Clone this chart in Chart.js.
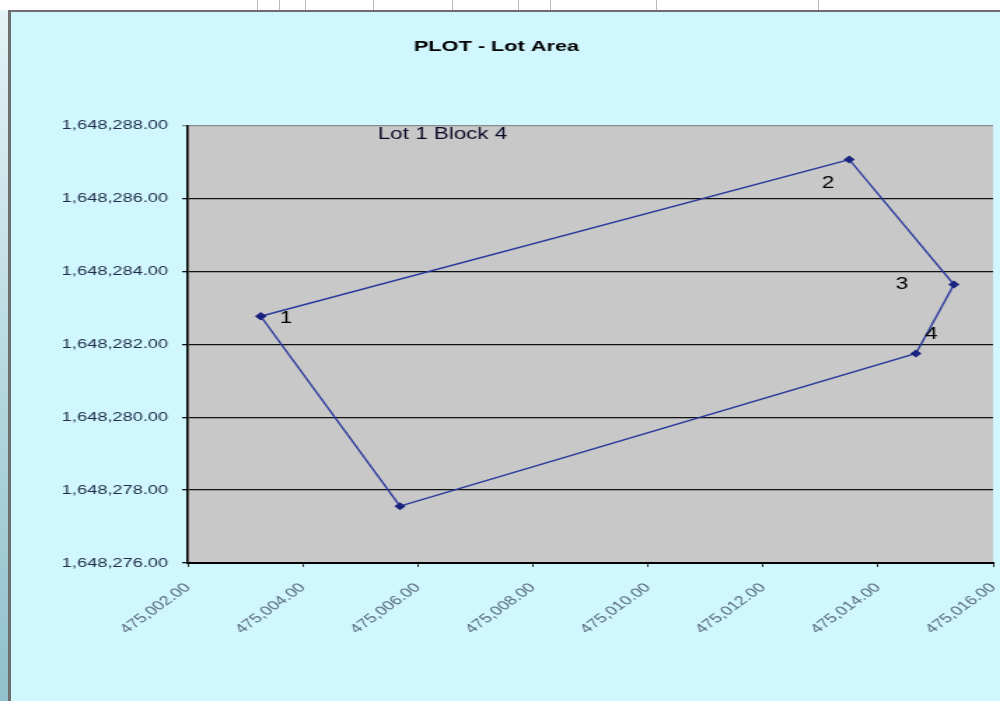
<!DOCTYPE html>
<html>
<head>
<meta charset="utf-8">
<title>PLOT - Lot Area</title>
<script src="https://cdn.jsdelivr.net/npm/chart.js@4/dist/chart.umd.min.js"></script>
<style>
    html, body { margin: 0; padding: 0; }
    body {
        width: 1000px; height: 701px; overflow: hidden; position: relative;
        background: #cff7fd;
        font-family: "Liberation Sans", Arial, sans-serif;
    }
    /* spreadsheet bits around the chart object */
    #sheet-top { position: absolute; left: 0; top: 0; width: 1000px; height: 10px; background: #fff; }
    #sheet-top span { position: absolute; top: 0; width: 1px; height: 10px; background: #b8b8b8; }
    #frame-top { position: absolute; left: 8px; top: 10px; width: 992px; height: 2px; background: #6e6e6e; }
    #sheet-left { position: absolute; left: 0; top: 10px; width: 8px; height: 691px;
        background: linear-gradient(#e4f3f6, #8fc0cc); }
    #frame-left { position: absolute; left: 8px; top: 10px; width: 3px; height: 691px; background: #6e6e6e; }
    /* the original picture is a sideways-stretched screenshot, so stretch the canvas the same way */
    canvas { position: absolute; left: 0; top: 0; transform: scaleX(1.4006); transform-origin: 0 0; }
</style>
</head>
<body>
<div id="sheet-top">
    <span style="left:257px"></span><span style="left:279px"></span><span style="left:305px"></span>
    <span style="left:373px"></span><span style="left:452px"></span><span style="left:518px"></span>
    <span style="left:550px"></span><span style="left:656px"></span><span style="left:818px"></span>
</div>
<div id="frame-top"></div>
<div id="sheet-left"></div>
<div id="frame-left"></div>
<canvas id="lotChart" width="714" height="701"></canvas>

<script>
// Lot corners (easting / northing), closed back to corner 1
const eastings  = [475003.27, 475013.50, 475015.32, 475014.66, 475005.69, 475003.27];
const northings = [1648282.77, 1648287.07, 1648283.64, 1648281.75, 1648277.56, 1648282.77];
const cornerLabels = ['1', '2', '3', '4', '', ''];

const xMin = 475002, xMax = 475016, xStep = 2;
const yMin = 1648276, yMax = 1648288, yStep = 2;

const chartTitle = 'PLOT - Lot Area';
const lotName = 'Lot 1 Block 4';
const lotNameAt = { x: 475006.43, y: 1648287.75 };

// pixel nudges for the corner numbers (style only, canvas px)
const labelNudge = [[18, 2], [-15, 24], [-37, 0], [11, -19], [0, 0], [0, 0]];

const FONT = '"Liberation Sans", Arial, sans-serif';

function fmt(v) {
    return v.toLocaleString('en-US', { minimumFractionDigits: 2, maximumFractionDigits: 2 });
}

const plotBackground = {
    id: 'plotBackground',
    beforeDraw(chart) {
        const { ctx, chartArea: a } = chart;
        ctx.save();
        ctx.fillStyle = '#c8c8c8';
        ctx.fillRect(a.left, a.top, a.right - a.left, a.bottom - a.top);
        ctx.restore();
    }
};

const textLabels = {
    id: 'textLabels',
    afterDatasetsDraw(chart) {
        const { ctx, scales } = chart;
        ctx.save();
        ctx.fillStyle = '#000';
        ctx.font = '16px ' + FONT;
        ctx.textAlign = 'center';
        ctx.textBaseline = 'middle';
        eastings.forEach((e, i) => {
            if (!cornerLabels[i]) return;
            const px = scales.x.getPixelForValue(e) + labelNudge[i][0];
            const py = scales.y.getPixelForValue(northings[i]) + labelNudge[i][1];
            ctx.fillText(cornerLabels[i], px, py);
        });
        ctx.fillStyle = '#0a0a28';
        ctx.fillText(lotName, scales.x.getPixelForValue(lotNameAt.x), scales.y.getPixelForValue(lotNameAt.y));
        ctx.restore();
    }
};

const ctx = document.getElementById('lotChart').getContext('2d');
new Chart(ctx, {
    type: 'scatter',
    data: {
        datasets: [{
            label: 'Lot',
            data: eastings.map((e, i) => ({ x: e, y: northings[i] })),
            showLine: true,
            borderColor: '#2b3a9c',
            borderWidth: 1.4,
            pointStyle: 'rectRot',
            pointRadius: 4,
            pointBackgroundColor: '#1a237e',
            pointBorderColor: '#1a237e',
            pointBorderWidth: 0
        }]
    },
    options: {
        responsive: false,
        animation: false,
        layout: { padding: { left: 0, right: 5, top: 0, bottom: 0 } },
        plugins: {
            legend: { display: false },
            tooltip: { enabled: false },
            title: {
                display: true,
                text: chartTitle,
                color: '#000',
                font: { family: FONT, size: 15.5, weight: 'bold' },
                padding: { top: 37, bottom: 70 }
            }
        },
        scales: {
            x: {
                type: 'linear',
                min: xMin,
                max: xMax,
                afterFit(scale) {
                    scale.height = 138;
                    scale.paddingLeft = 0;
                    scale.paddingRight = 0;
                },
                ticks: {
                    stepSize: xStep,
                    minRotation: 45,
                    maxRotation: 45,
                    padding: 13,
                    color: '#5a6a80',
                    font: { family: FONT, size: 13 },
                    callback: v => fmt(v)
                },
                grid: { drawOnChartArea: false, drawTicks: true, tickLength: 4, color: '#333' },
                border: { color: '#000', width: 2 }
            },
            y: {
                type: 'linear',
                min: yMin,
                max: yMax,
                afterFit(scale) { scale.width = 134; },
                ticks: {
                    stepSize: yStep,
                    padding: 10,
                    color: '#1f2b4a',
                    font: { family: FONT, size: 13 },
                    callback: v => fmt(v)
                },
                grid: {
                    color: c => (c.tick && c.tick.value === yMax) ? '#8a8a8a' : '#111',
                    lineWidth: 1.3,
                    tickLength: 4
                },
                border: { color: '#000', width: 1.6 }
            }
        }
    },
    plugins: [plotBackground, textLabels]
});
</script>
</body>
</html>
